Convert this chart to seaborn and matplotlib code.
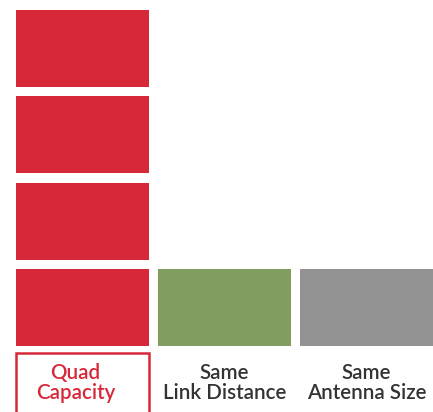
import matplotlib
matplotlib.use("Agg")
import matplotlib.pyplot as plt
from matplotlib.patches import Rectangle
import seaborn as sns
import pandas as pd

# Data: how many capacity blocks each option stacks up
categories = ["Quad\nCapacity", "Same\nLink Distance", "Same\nAntenna Size"]
block_counts = [4, 1, 1]
bar_colors = ["#D62839", "#819D60", "#939393"]
label_colors = ["#D62839", "#333333", "#333333"]

sns.set_theme(style="white")
plt.rcParams["font.family"] = ["Lato", "DejaVu Sans"]

fig = plt.figure(figsize=(4.33, 4.12), dpi=100)
ax = fig.add_axes([0, 0, 1, 1])

block_h = 0.892
bar_w = 0.937
max_levels = max(block_counts)

for level in range(max_levels):
    heights = [block_h if level < n else 0 for n in block_counts]
    df = pd.DataFrame({"option": categories, "h": heights})
    sns.barplot(data=df, x="option", y="h", hue="option", palette=bar_colors,
                order=categories, hue_order=categories, legend=False,
                width=bar_w, bottom=level, linewidth=0, saturation=1, ax=ax)

ax.set_xlim(-0.581, 2.4683)
ax.set_ylim(-0.765, 4.009)
ax.axis("off")

# Category labels under each column
label_dx = [-0.05, 0.0, 0.0]
for i, (lab, col) in enumerate(zip(categories, label_colors)):
    ax.text(i + label_dx[i], -0.43, lab, ha="center", va="center",
            multialignment="center", fontsize=14.8, fontweight="semibold",
            color=col, linespacing=1.05)

# Highlight frame around the first category label
ax.add_patch(Rectangle((-bar_w / 2, -0.79), bar_w, 0.71, fill=False,
                       edgecolor=bar_colors[0], linewidth=1.8, clip_on=False))

fig.savefig("out.png", dpi=100)
